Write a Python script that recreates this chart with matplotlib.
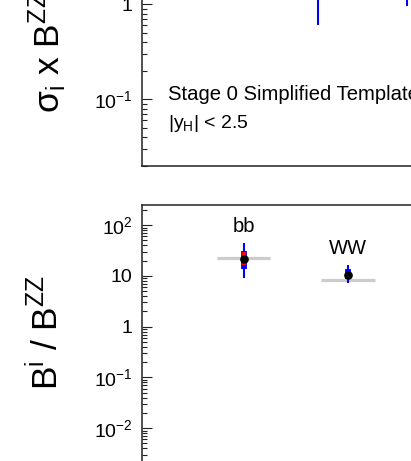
import numpy as np
import matplotlib
matplotlib.use("Agg")
import matplotlib.pyplot as plt
from matplotlib.ticker import LogLocator, FuncFormatter, NullFormatter

plt.rcParams['font.family'] = ['Liberation Sans', 'DejaVu Sans']
plt.rcParams['mathtext.fontset'] = 'custom'
plt.rcParams['mathtext.rm'] = 'Liberation Sans'
plt.rcParams['mathtext.it'] = 'Liberation Sans:italic'
plt.rcParams['mathtext.bf'] = 'Liberation Sans:bold'

# ---------------- data ----------------
# top panel (sigma_i x B^ZZ), only lower ends of errors visible
top_pos = [2, 3]
top_val = [1.6, 1.4]
top_lo = [0.61, 0.95]
top_hi = [2.9, 2.0]

# bottom panel (B^i / B^ZZ)
ratio_labels = ['bb', 'WW']
ratio_pos = [0, 1]
ratio_val = [21.4, 10.5]
ratio_sm = [22.1, 8.5]
ratio_tot_lo = [9.3, 7.1]
ratio_tot_hi = [45.6, 16.3]
ratio_sys_lo = [14.0, 8.6]
ratio_sys_hi = [31.2, 13.6]
ratio_stat_lo = [16.3, 9.3]
ratio_stat_hi = [29.8, 12.2]

W, H = 411, 461
fig = plt.figure(figsize=(W / 100, H / 100), dpi=100)

def fmt(v, pos):
    e = int(round(np.log10(v)))
    if e == 0:
        return '1'
    if e == 1:
        return '10'
    return r'$10^{%d}$' % e

def style(ax):
    ax.set_yscale('log')
    ax.yaxis.set_major_locator(LogLocator(base=10, numticks=20))
    ax.yaxis.set_minor_locator(LogLocator(base=10, subs=np.arange(2, 10), numticks=20))
    ax.yaxis.set_major_formatter(FuncFormatter(fmt))
    ax.yaxis.set_minor_formatter(NullFormatter())
    ax.tick_params(axis='y', which='major', direction='in', length=7.2, width=0.8,
                   labelsize=14, pad=6.5, colors='#222222', labelcolor='black')
    ax.tick_params(axis='y', which='minor', direction='in', length=3.6, width=0.8,
                   colors='#222222')
    ax.tick_params(axis='x', which='both', bottom=False, top=False, labelbottom=False)
    for s in ax.spines.values():
        s.set_linewidth(1.1)
        s.set_color('#222222')

left_px = 141.5
axw_px = 470.0

# ---- top panel ----
D_top = 95.0
top_bottom_px = H - 165.7
top_h = D_top * (np.log10(100) - np.log10(0.02))
ax1 = fig.add_axes([left_px / W, top_bottom_px / H, axw_px / W, top_h / H])
style(ax1)
ax1.set_ylim(0.02, 100)
ax1.set_xlim(0, axw_px / 88.4)
ax1.vlines(top_pos, top_lo, top_hi, color='blue', lw=1.5)
ax1.plot(top_pos, top_val, 'o', color='black', ms=5)

# ---- bottom panel ----
D_bot = 50.75
bot_top_px = H - 205
bot_h = D_bot * (np.log10(250) - np.log10(1e-3))
ax2 = fig.add_axes([left_px / W, (bot_top_px - bot_h) / H, axw_px / W, bot_h / H])
style(ax2)
ax2.set_ylim(1e-3, 250)
xmin = -0.98
ax2.set_xlim(xmin, xmin + axw_px / 104.3)

hw = 0.255
for x, sm in zip(ratio_pos, ratio_sm):
    ax2.plot([x - hw, x + hw], [sm, sm], color='#cccccc', lw=2.3, solid_capstyle='butt', zorder=1)
ax2.vlines(ratio_pos, ratio_tot_lo, ratio_tot_hi, color='blue', lw=1.5, zorder=2)
ax2.vlines(ratio_pos, ratio_sys_lo, ratio_sys_hi, color='blue', lw=4.2, zorder=3)
ax2.vlines(ratio_pos, ratio_stat_lo, ratio_stat_hi, color='red', lw=3.2, zorder=4)
ax2.plot(ratio_pos, ratio_val, 'o', color='black', ms=5.2, zorder=5)
for x, lab, hi in zip(ratio_pos, ratio_labels, ratio_tot_hi):
    ax2.text(x, hi * 2.1, lab, ha='center', va='center', fontsize=14.5)

# ---- text ----
fig.text(168 / W, (H - 100) / H, 'Stage 0 Simplified Template Cross Sections',
         fontsize=14.6, ha='left', va='baseline')
fig.text(168 / W, (H - 128) / H, r'|y$_{\mathrm{H}}$| < 2.5',
         fontsize=14, ha='left', va='baseline')

fig.text(48.5 / W, (H - 113) / H, r'σ$_{\mathrm{i}}$ x B$^{\mathrm{ZZ}}$ [pb]',
         rotation=90, ha='center', va='bottom', fontsize=25.5)
fig.text(46.5 / W, (H - 332.5) / H, r'B$^{\mathrm{i}}$ / B$^{\mathrm{ZZ}}$',
         rotation=90, ha='center', va='center', fontsize=25.5)

fig.savefig('out.png', dpi=100)
